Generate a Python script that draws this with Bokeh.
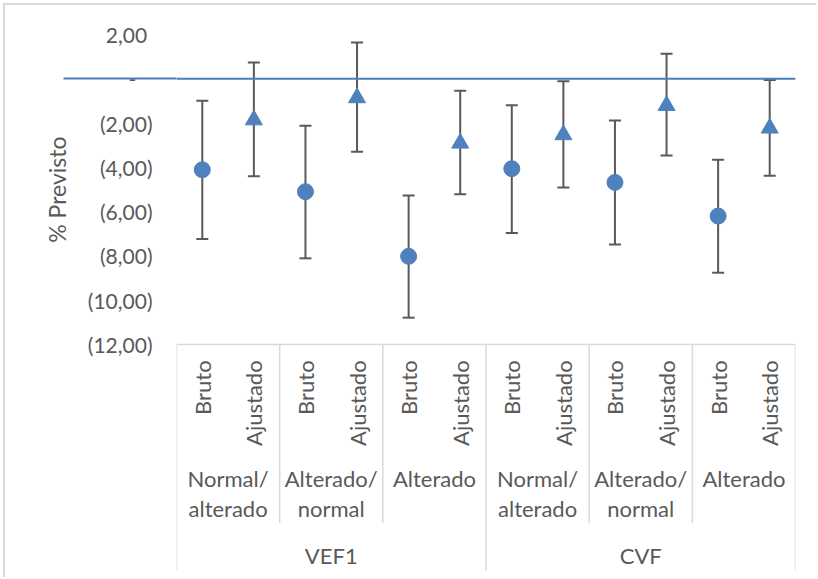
import numpy as np
from bokeh.plotting import figure
from bokeh.models import (FactorRange, Range1d, ColumnDataSource, Whisker, TeeHead,
                          Span, FixedTicker, CustomJSTickFormatter, Title)
from bokeh.core.properties import value
from bokeh.embed import file_html
from bokeh.resources import INLINE

# ---------------- data ----------------
measures = ["VEF1", "CVF"]
patterns = ["Normal/alterado", "Alterado/normal", "Alterado"]
pattern_labels = ["Normal/\nalterado", "Alterado/\nnormal", "Alterado"]
estimates = ["Bruto", "Ajustado"]

# order: VEF1 (N/A, A/N, A), CVF (N/A, A/N, A)
bruto_mean = [-4.11, -5.10, -8.02, -4.06, -4.68, -6.20]
bruto_lower = [-7.24, -8.11, -10.79, -6.97, -7.48, -8.76]
bruto_upper = [-0.99, -2.12, -5.27, -1.19, -1.88, -3.66]

ajust_mean = [-1.86, -0.86, -2.91, -2.53, -1.21, -2.23]
ajust_lower = [-4.40, -3.30, -5.21, -4.91, -3.46, -4.38]
ajust_upper = [0.74, 1.64, -0.54, -0.11, 1.13, -0.05]

y_ticks = [2, 0, -2, -4, -6, -8, -10, -12]
y_title = "% Previsto"
reference_value = 0

# ---------------- style ----------------
FONT = "Lato"
TXT = "#595959"
BLUE = "#4f81bd"
LINE_BLUE = "#4a7ebb"
BAR = "#595959"
GRID = "#d9d9d9"
SHIFT = 5                      # chart-area border offset (px)
W, H = 818 - SHIFT, 579 - SHIFT
Y_MIN, Y_MAX = -22.21, 2
EXT = 113                      # how far the zero line runs left of the plot area

factors = [(m, pt, e) for m in measures for pt in patterns for e in estimates]
x_b = [(m, pt, estimates[0]) for m in measures for pt in patterns]
x_a = [(m, pt, estimates[1]) for m in measures for pt in patterns]

p = figure(width=W, height=H,
           x_range=FactorRange(*factors, factor_padding=0, subgroup_padding=0,
                               group_padding=0, range_padding=0),
           y_range=Range1d(Y_MIN, Y_MAX),
           output_backend="svg", toolbar_location=None, x_axis_location=None,
           min_border_left=176 - SHIFT, min_border_right=23,
           min_border_top=34 - SHIFT, min_border_bottom=9)
p.outline_line_color = None
p.xgrid.visible = False
p.ygrid.visible = False
p.background_fill_color = "white"
p.border_fill_color = "white"
p.styles = {"border-left": "2px solid #d9d9d9", "border-top": "2px solid #d9d9d9",
            "margin-left": "3px", "margin-top": "3px"}

ya = p.yaxis[0]
ya.ticker = FixedTicker(ticks=y_ticks, minor_ticks=[reference_value])
ya.formatter = CustomJSTickFormatter(code=r"""
const a = Math.abs(tick).toFixed(2).replace('.', ',');
if (Math.abs(tick) < 1e-9) { return '-\u00a0\u00a0\u00a0'; }
if (tick < 0) { return '(' + a + ')'; }
return a + '\u00a0';
""")
ya.axis_line_color = None
ya.major_tick_line_color = None
ya.major_tick_out = 0
ya.major_tick_in = 0
# the reference line continues to the left of the plot area
ya.minor_tick_line_color = LINE_BLUE
ya.minor_tick_line_width = 2
ya.minor_tick_out = EXT
ya.minor_tick_in = 0
ya.major_label_standoff = 24 - EXT
ya.major_label_text_font = FONT
ya.major_label_text_font_size = "21px"
ya.major_label_text_color = TXT

p.add_layout(Title(text=y_title, align="right", offset=102, standoff=24,
                   vertical_align="top",
                   text_font=FONT, text_font_size="23px", text_font_style="normal",
                   text_color=TXT), "left")

# ---- category table lines ----
n_e, n_p, n_m = len(estimates), len(patterns), len(measures)
group_edges = [i * n_p * n_e for i in range(n_m + 1)]
sub_edges = [j * n_e for j in range(n_m * n_p + 1) if j % n_p != 0]
axis_v = y_ticks[-1]
p.segment(x0=[0], x1=[n_m * n_p * n_e], y0=[axis_v], y1=[axis_v], line_color=GRID, line_width=1.5)
p.segment(x0=group_edges, x1=group_edges, y0=axis_v, y1=Y_MIN, line_color=GRID, line_width=1.5)
p.segment(x0=sub_edges, x1=sub_edges, y0=axis_v, y1=-20.07, line_color=GRID, line_width=1.5)

# ---- category labels ----
p.text(x=factors, y=-12.72, text=estimates * (n_m * n_p), angle=np.pi / 2,
       text_align="right", text_baseline="middle", text_font=value(FONT),
       text_font_size="22px", text_color=TXT)
p.text(x=[(m, pt) for m in measures for pt in patterns], y=-17.45,
       text=pattern_labels * n_m, text_align="center", text_baseline="top",
       text_line_height=1.1, text_font=value(FONT), text_font_size="22px", text_color=TXT)
p.text(x=measures, y=-21.53, text=measures, text_align="center", text_baseline="middle",
       text_font=value(FONT), text_font_size="22px", text_color=TXT)

# ---- zero reference line ----
p.add_layout(Span(location=reference_value, dimension="width",
                  line_color=LINE_BLUE, line_width=2))

# ---- error bars + markers ----
src_b = ColumnDataSource(dict(x=x_b, mean=bruto_mean, lower=bruto_lower, upper=bruto_upper))
src_a = ColumnDataSource(dict(x=x_a, mean=ajust_mean, lower=ajust_lower, upper=ajust_upper))
for src in (src_b, src_a):
    w = Whisker(source=src, base="x", upper="upper", lower="lower",
                line_color=BAR, line_width=2,
                upper_head=TeeHead(size=12, line_color=BAR, line_width=2),
                lower_head=TeeHead(size=12, line_color=BAR, line_width=2))
    w.level = "underlay"
    p.add_layout(w)

p.scatter(x="x", y="mean", source=src_b, marker="circle", size=16,
          fill_color=BLUE, line_color=BLUE)
p.scatter(x="x", y="mean", source=src_a, marker="triangle", size=17,
          fill_color=BLUE, line_color=BLUE)

open("out.html", "w").write(file_html(p, INLINE))
